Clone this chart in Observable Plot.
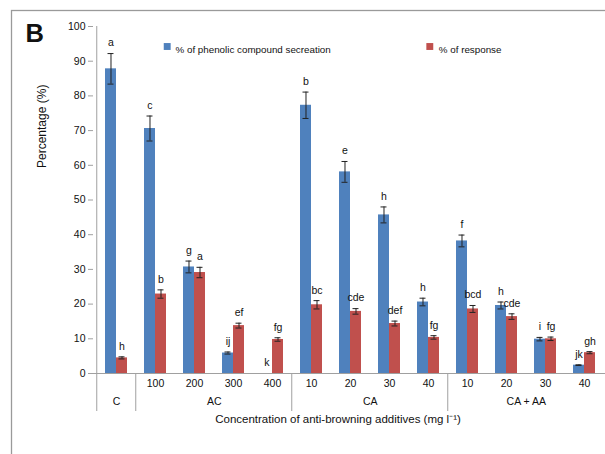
<!DOCTYPE html>
<html>
<head>
<meta charset="utf-8">
<script src="https://cdn.jsdelivr.net/npm/d3@7"></script>
<script src="https://cdn.jsdelivr.net/npm/@observablehq/plot@0.6"></script>
<style>
  html, body { margin: 0; padding: 0; background: #fff; }
</style>
</head>
<body>
<div id="chart"></div>
<script>
// ---- data ----
const groups = ["C", "AC", "AC", "AC", "AC", "CA", "CA", "CA", "CA", "CA + AA", "CA + AA", "CA + AA", "CA + AA"];
const concentrations = ["", "100", "200", "300", "400", "10", "20", "30", "40", "10", "20", "30", "40"];
const phenolic = [87.8, 70.6, 30.7, 5.9, 0, 77.3, 58.1, 45.7, 20.6, 38.2, 19.6, 9.9, 2.4];
const phenolicErr = [4.4, 3.6, 1.7, 0.3, 0, 3.8, 3.0, 2.3, 1.1, 1.7, 1.0, 0.5, 0.1];
const response = [4.5, 22.9, 29.1, 13.8, 9.8, 19.8, 17.9, 14.4, 10.4, 18.6, 16.4, 10.0, 6.0];
const responseErr = [0.3, 1.2, 1.5, 0.7, 0.5, 1.2, 0.8, 0.7, 0.5, 1.0, 0.8, 0.5, 0.3];
const phenolicLetters = ["a", "c", "g", "ij", "k", "b", "e", "h", "h", "f", "h", "i", "jk"];
const responseLetters = ["h", "b", "a", "ef", "fg", "bc", "cde", "def", "fg", "bcd", "cde", "fg", "gh"];
const seriesNames = ["% of phenolic compound secreation", "% of response"];
const seriesColors = ["#4F81BD", "#C0504D"];
const yTicks = [0, 10, 20, 30, 40, 50, 60, 70, 80, 90, 100];
const groupNames = ["C", "AC", "CA", "CA + AA"];
const panelLabel = "B";
const yTitle = "Percentage (%)";
const xTitle = "Concentration of anti-browning additives (mg l\u207B\u00B9)";

// ---- derived tables ----
const keys = groups.map((g, i) => g + "|" + concentrations[i]);
const rows = keys.map((k, i) => ({
  key: k, group: groups[i], conc: concentrations[i],
  phen: phenolic[i], phenErr: phenolicErr[i], phenLetter: phenolicLetters[i],
  resp: response[i], respErr: responseErr[i], respLetter: responseLetters[i]
}));
const groupInfo = groupNames.map(name => {
  const first = groups.indexOf(name);
  const last = groups.lastIndexOf(name);
  const n = last - first + 1;
  const mid = first + Math.floor((n - 1) / 2);
  return {name, firstKey: keys[first], midKey: keys[mid], even: n % 2 === 0};
});

const W = 605, H = 454;
const mL = 93, mT = 26, mB = 81;
const xRange = [93, 606.5];
const step = (xRange[1] - xRange[0]) / keys.length;
const half = step * (1 - 0.443) / 2; // one bar width
const gray = "#a0a0a0";
const ink = "#111";

const chart = Plot.plot({
  width: W,
  height: H,
  marginLeft: mL,
  marginRight: 0,
  marginTop: mT,
  marginBottom: mB,
  style: {fontFamily: "'Liberation Sans', Arial, Helvetica, sans-serif", fontSize: "10px", color: ink, background: "#fff"},
  x: {domain: keys, range: xRange, paddingInner: 0.443, paddingOuter: 0.2215, axis: null},
  y: {domain: [0, 100], axis: null},
  marks: [
    // outer border
    Plot.frame({stroke: "#9a9a9a", strokeWidth: 1.3, insetLeft: -(mL - 11), insetTop: -(mT - 10), insetRight: -6, insetBottom: -95}),
    // bars
    Plot.barY(rows, {x: "key", y: "phen", fill: seriesColors[0], insetRight: half}),
    Plot.barY(rows, {x: "key", y: "resp", fill: seriesColors[1], insetLeft: half}),
    // error bars
    Plot.ruleX(rows.filter(d => d.phenErr > 0), {x: "key", y1: d => d.phen - d.phenErr, y2: d => d.phen + d.phenErr, dx: -half / 2, stroke: "#222", strokeWidth: 1}),
    Plot.ruleX(rows.filter(d => d.respErr > 0), {x: "key", y1: d => d.resp - d.respErr, y2: d => d.resp + d.respErr, dx: half / 2, stroke: "#222", strokeWidth: 1}),
    Plot.tickY(rows.filter(d => d.phenErr > 0), {x: "key", y: d => d.phen + d.phenErr, insetLeft: half / 2 - 3, insetRight: half * 1.5 - 3, stroke: "#222"}),
    Plot.tickY(rows.filter(d => d.phenErr > 0), {x: "key", y: d => d.phen - d.phenErr, insetLeft: half / 2 - 3, insetRight: half * 1.5 - 3, stroke: "#222"}),
    Plot.tickY(rows.filter(d => d.respErr > 0), {x: "key", y: d => d.resp + d.respErr, insetLeft: half * 1.5 - 3, insetRight: half / 2 - 3, stroke: "#222"}),
    Plot.tickY(rows.filter(d => d.respErr > 0), {x: "key", y: d => d.resp - d.respErr, insetLeft: half * 1.5 - 3, insetRight: half / 2 - 3, stroke: "#222"}),
    // significance letters
    Plot.text(rows, {x: "key", y: d => d.phen + d.phenErr, text: "phenLetter", dx: -half / 2, dy: -10.5, fontSize: 10.5, fill: ink}),
    Plot.text(rows, {x: "key", y: d => d.resp + d.respErr, text: "respLetter", dx: half / 2, dy: -10.5, fontSize: 10.5, fill: ink}),
    // y axis
    Plot.ruleX([keys[0]], {x: d => d, y1: 0, y2: 100, dx: -step / 2, stroke: gray}),
    Plot.axisY({ticks: yTicks, tickSize: 5, tickPadding: 3, stroke: gray, fill: ink, fontSize: 10.5, label: null}),
    // x axis line and category separators
    Plot.ruleY([0], {stroke: gray}),
    Plot.ruleX(groupInfo, {x: "firstKey", dx: -step / 2, stroke: gray, insetTop: H - mT - mB, insetBottom: -38}),
    // category labels
    Plot.text(rows, {x: "key", text: "conc", frameAnchor: "bottom", dy: 13, fontSize: 10.5, fill: ink}),
    Plot.text(groupInfo.filter(d => !d.even), {x: "midKey", text: "name", frameAnchor: "bottom", dy: 31.5, fontSize: 10.5, fill: ink}),
    Plot.text(groupInfo.filter(d => d.even), {x: "midKey", text: "name", frameAnchor: "bottom", dx: step / 2, dy: 31.5, fontSize: 10.5, fill: ink}),
    // axis titles
    Plot.text([xTitle], {frameAnchor: "bottom-left", dx: 337.5 - mL, dy: 49, fontSize: 11.5, fill: ink, textAnchor: "middle"}),
    Plot.text([yTitle], {frameAnchor: "top-left", dx: 36.5 - mL, dy: 167.5 - mT, rotate: -90, fontSize: 12, fill: ink}),
    // panel label
    Plot.text([panelLabel], {frameAnchor: "top-left", dx: 25 - mL, dy: 41.7 - mT, lineAnchor: "bottom", textAnchor: "start", fontSize: 25.5, fontWeight: "bold", fill: "#111"}),
    // legend
    Plot.dot([seriesNames[0]], {frameAnchor: "top-left", dx: 166.7 - mL, dy: 46 - mT, symbol: "square", r: 3.9, fill: seriesColors[0]}),
    Plot.text([seriesNames[0]], {frameAnchor: "top-left", dx: 175 - mL, dy: 46 - mT, textAnchor: "start", fontSize: 9.8, fill: ink}),
    Plot.dot([seriesNames[1]], {frameAnchor: "top-left", dx: 429.3 - mL, dy: 46 - mT, symbol: "square", r: 3.9, fill: seriesColors[1]}),
    Plot.text([seriesNames[1]], {frameAnchor: "top-left", dx: 438.3 - mL, dy: 46 - mT, textAnchor: "start", fontSize: 9.8, fill: ink})
  ]
});
document.getElementById("chart").appendChild(chart);
</script>
</body>
</html>
